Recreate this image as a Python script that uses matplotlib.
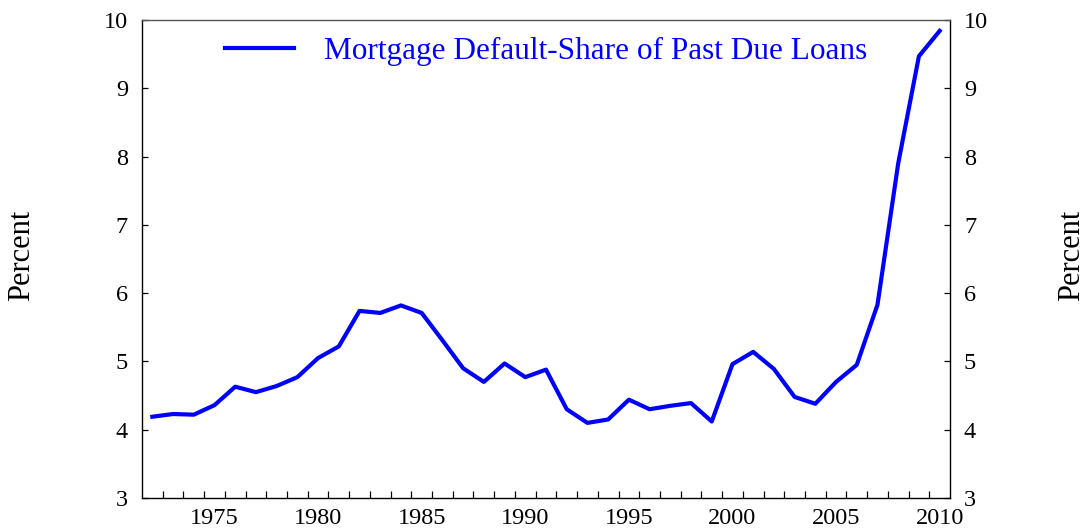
import matplotlib
matplotlib.use("Agg")
import matplotlib.pyplot as plt
import numpy as np

years = list(range(1972, 2011))
default_share = [4.19, 4.23, 4.22, 4.36, 4.63, 4.55, 4.64, 4.77, 5.05, 5.22,
                 5.74, 5.71, 5.82, 5.71, 5.31, 4.90, 4.70, 4.97, 4.77, 4.88,
                 4.30, 4.10, 4.15, 4.44, 4.30, 4.35, 4.39, 4.12, 4.96, 5.14,
                 4.89, 4.48, 4.38, 4.70, 4.95, 5.83, 7.90, 9.47, 9.84]
label_years = [1975, 1980, 1985, 1990, 1995, 2000, 2005, 2010]
y_ticks = [3, 4, 5, 6, 7, 8, 9, 10]

plt.rcParams["font.family"] = ["Liberation Serif", "DejaVu Serif"]

fig = plt.figure(figsize=(10.89, 5.31), dpi=100)
ax = fig.add_axes([142 / 1089, 33 / 531, 808 / 1089, 478 / 531])

ax.plot(years, default_share, color=(0, 0, 1), lw=3,
        label="Mortgage Default-Share of Past Due Loans")

ax.set_xlim(1971.5, 2010.5)
ax.set_ylim(3, 10)
ax.set_yticks(y_ticks)
ax.set_xticks(label_years)
ax.set_xticks(np.arange(1972.5, 2010, 1.0), minor=True)

ax.tick_params(axis="x", which="major", length=0, labelsize=17.5, pad=7)
ax.tick_params(axis="x", which="minor", direction="in", length=5, width=0.9)
ax.tick_params(axis="y", which="major", direction="in", length=4, width=0.9,
               left=True, right=True, labelleft=True, labelright=True,
               labelsize=17.5, pad=10)
for s in ax.spines.values():
    s.set_linewidth(1.0)
ax.spines["top"].set_color("#555555")

ax.legend(loc="upper center", frameon=False, fontsize=22.5,
          handlelength=2.2, handletextpad=0.95, borderaxespad=0.15,
          labelcolor=(0, 0, 1))

fig.text(22 / 1089, 0.52, "Percent", rotation=90, ha="center", va="center", fontsize=22)
fig.text(1072 / 1089, 0.52, "Percent", rotation=90, ha="center", va="center", fontsize=22)

fig.savefig("out.png", dpi=100)
